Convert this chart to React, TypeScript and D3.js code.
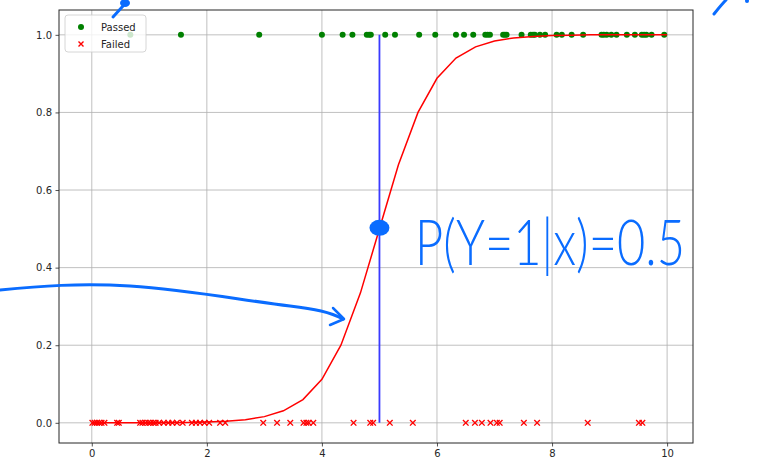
import React, { useEffect, useRef } from "react";
import * as d3 from "d3";

// hours studied of students who passed (y = 1)
const passedX = [0.67, 1.55, 2.91, 4.0, 4.36, 4.53, 4.78, 4.82, 4.85, 5.1, 5.27, 5.69, 5.97, 6.33, 6.47, 6.63, 6.84, 6.88, 6.92, 7.15, 7.18, 7.21, 7.47, 7.63, 7.67, 7.7, 7.79, 7.88, 8.08, 8.17, 8.34, 8.54, 8.86, 8.9, 8.95, 9.03, 9.12, 9.3, 9.44, 9.56, 9.6, 9.64, 9.73, 9.95];
// hours studied of students who failed (y = 0)
const failedX = [0.01, 0.05, 0.09, 0.13, 0.17, 0.22, 0.44, 0.47, 0.84, 0.88, 0.93, 0.98, 1.02, 1.07, 1.11, 1.17, 1.25, 1.33, 1.4, 1.48, 1.58, 1.74, 1.81, 1.88, 1.96, 2.04, 2.23, 2.32, 2.98, 3.22, 3.45, 3.68, 3.73, 3.77, 3.85, 4.55, 4.84, 4.89, 5.18, 5.58, 6.5, 6.66, 6.78, 6.93, 7.04, 7.09, 7.51, 7.74, 8.62, 9.51, 9.57];
// fitted probability curve
const curveX = [0, 0.33, 0.67, 1, 1.33, 1.67, 2, 2.33, 2.67, 3, 3.33, 3.67, 4, 4.33, 4.67, 5, 5.33, 5.67, 6, 6.33, 6.67, 7, 7.33, 7.67, 8, 8.33, 8.67, 9, 9.33, 9.67, 10];
const curveY = [0, 0, 0, 0, 0, 0.001, 0.002, 0.004, 0.008, 0.016, 0.031, 0.06, 0.112, 0.2, 0.335, 0.5, 0.665, 0.8, 0.888, 0.94, 0.969, 0.984, 0.992, 0.996, 0.998, 0.999, 1, 1, 1, 1, 1];
const xTicks = [0, 2, 4, 6, 8, 10];
const yTicks = [0, 0.2, 0.4, 0.6, 0.8, 1.0];
const threshold = 0.5;
const boundaryX = 5;

const W = 759;
const H = 467;
const plot = { left: 59, right: 693, top: 10, bottom: 443 };
const ink = "#0a6cff";

const App = () => {
  const ref = useRef<SVGSVGElement>(null);

  useEffect(() => {
    const svg = d3.select(ref.current);
    svg.selectAll("*").remove();

    const x = d3.scaleLinear().domain([-0.57, 10.45]).range([plot.left, plot.right]);
    const y = d3.scaleLinear().domain([-0.052, 1.064]).range([plot.bottom, plot.top]);

    const font = "DejaVu Sans, sans-serif";

    // grid
    const grid = svg.append("g");
    xTicks.forEach((t) => {
      grid.append("line").attr("x1", x(t)).attr("x2", x(t)).attr("y1", plot.top).attr("y2", plot.bottom)
        .attr("stroke", "#b0b0b0").attr("stroke-width", 0.8);
    });
    yTicks.forEach((t) => {
      grid.append("line").attr("y1", y(t)).attr("y2", y(t)).attr("x1", plot.left).attr("x2", plot.right)
        .attr("stroke", "#b0b0b0").attr("stroke-width", 0.8);
    });

    // axes
    const xAxis = d3.axisBottom(x).tickValues(xTicks).tickFormat(d3.format("d")).tickSize(3.5).tickPadding(3.5);
    const yAxis = d3.axisLeft(y).tickValues(yTicks).tickFormat(d3.format(".1f")).tickSize(3.5).tickPadding(3.5);
    const gx = svg.append("g").attr("transform", `translate(0,${plot.bottom})`).call(xAxis);
    const gy = svg.append("g").attr("transform", `translate(${plot.left},0)`).call(yAxis);
    [gx, gy].forEach((g) => {
      g.select(".domain").remove();
      g.selectAll("text").attr("font-family", font).attr("font-size", 10).attr("fill", "#262626");
      g.selectAll("line").attr("stroke", "#262626").attr("stroke-width", 0.8);
    });

    // failed markers
    const xs = svg.append("g");
    failedX.forEach((v) => {
      const cx = x(v), cy = y(0), s = 2.8;
      xs.append("path")
        .attr("d", `M${cx - s},${cy - s}L${cx + s},${cy + s}M${cx - s},${cy + s}L${cx + s},${cy - s}`)
        .attr("stroke", "red").attr("stroke-width", 1.4).attr("fill", "none");
    });

    // passed markers
    svg.append("g").selectAll("circle").data(passedX).join("circle")
      .attr("cx", (d) => x(d)).attr("cy", y(1)).attr("r", 3).attr("fill", "green");

    // fitted curve
    const line = d3.line<number>().x((d, i) => x(curveX[i])).y((d) => y(d));
    svg.append("path").attr("d", line(curveY)).attr("fill", "none").attr("stroke", "red").attr("stroke-width", 1.5);

    // decision boundary
    svg.append("line").attr("x1", x(boundaryX)).attr("x2", x(boundaryX)).attr("y1", y(0)).attr("y2", y(1))
      .attr("stroke", "#3a3aff").attr("stroke-width", 1.8);

    // frame
    svg.append("rect").attr("x", plot.left).attr("y", plot.top)
      .attr("width", plot.right - plot.left).attr("height", plot.bottom - plot.top)
      .attr("fill", "none").attr("stroke", "#262626").attr("stroke-width", 1);

    // legend
    const lg = svg.append("g");
    lg.append("rect").attr("x", 65).attr("y", 15).attr("width", 81).attr("height", 37).attr("rx", 3)
      .attr("fill", "white").attr("fill-opacity", 0.8).attr("stroke", "#cccccc").attr("stroke-width", 0.8);
    lg.append("circle").attr("cx", 81).attr("cy", 27).attr("r", 3).attr("fill", "green");
    lg.append("path").attr("d", "M78.5,41.5L83.5,46.5M78.5,46.5L83.5,41.5").attr("stroke", "red").attr("stroke-width", 1.4);
    lg.append("text").attr("x", 101).attr("y", 30.5).text("Passed").attr("font-family", font).attr("font-size", 10).attr("fill", "#262626");
    lg.append("text").attr("x", 101).attr("y", 47.5).text("Failed").attr("font-family", font).attr("font-size", 10).attr("fill", "#262626");

    // hand-drawn annotations
    const ann = svg.append("g").attr("fill", "none").attr("stroke", ink).attr("stroke-linecap", "round").attr("stroke-linejoin", "round");
    ann.append("path")
      .attr("d", "M0,290 C40,286 80,283 130,286 C190,290 240,300 290,306 C315,309 330,312 343,319")
      .attr("stroke-width", 3);
    ann.append("path").attr("d", "M333,308 L344,319 L330,325").attr("stroke-width", 2.5);
    ann.append("path").attr("d", "M113,17 L123,6").attr("stroke-width", 3);
    ann.append("path").attr("d", "M714,14 C718,9 722,4 726,0").attr("stroke-width", 3);
    svg.append("ellipse").attr("cx", 125).attr("cy", 3).attr("rx", 5).attr("ry", 4).attr("fill", ink);
    svg.append("ellipse").attr("cx", 747).attr("cy", 1).attr("rx", 2).attr("ry", 2).attr("fill", ink);
    svg.append("ellipse").attr("cx", x(boundaryX)).attr("cy", y(threshold) - 1).attr("rx", 10).attr("ry", 8).attr("fill", ink);
    svg.append("text").attr("transform", "translate(415,265) scale(1,1.45)").text("P(Y=1|x)=0.5")
      .attr("font-family", "Lato, sans-serif").attr("font-weight", 300).attr("font-size", 44)
      .attr("textLength", 270).attr("lengthAdjust", "spacingAndGlyphs")
      .attr("fill", ink);
  }, []);

  return (
    <svg ref={ref} width={W} height={H} style={{ position: "absolute", left: 0, top: 0, background: "white" }} />
  );
};

export default App;
